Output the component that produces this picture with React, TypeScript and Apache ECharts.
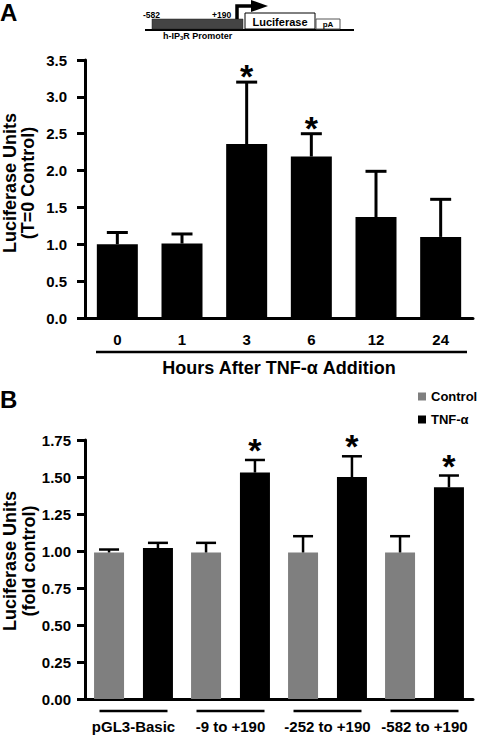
import React, { useEffect, useRef } from "react";
import * as echarts from "echarts";

// ---------- data ----------
const hours = ["0", "1", "3", "6", "12", "24"];
const meanA = [1.0, 1.01, 2.36, 2.19, 1.37, 1.1];
const errA = [0.16, 0.13, 0.84, 0.31, 0.62, 0.51];
const sigA = [0, 0, 1, 1, 0, 0];
const yTicksA = { min: 0, max: 3.5, interval: 0.5 };

const constructs = ["pGL3-Basic", "-9 to +190", "-252 to +190", "-582 to +190"];
const controlB = [0.99, 0.99, 0.99, 0.99];
const controlErrB = [0.02, 0.065, 0.11, 0.11];
const tnfB = [1.02, 1.53, 1.5, 1.43];
const tnfErrB = [0.035, 0.085, 0.14, 0.08];
const sigControlB = [0, 0, 0, 0];
const sigTnfB = [0, 1, 1, 1];
const yTicksB = { min: 0, max: 1.75, interval: 0.25 };

const yTitleA = ["Luciferase Units", "(T=0 Control)"];
const yTitleB = ["Luciferase Units", "(fold control)"];

const FONT = '"Liberation Sans", Arial, Helvetica, sans-serif';

function errRenderer(offset: number, capHalf: number, lw: number, starSize: number, starGap: number) {
  return (params: any, api: any) => {
    const i = api.value(0);
    const v = api.value(1);
    const e = api.value(2);
    const s = api.value(3);
    const p0 = api.coord([i, v]);
    const p1 = api.coord([i, v + e]);
    const x = p0[0] + offset;
    const children: any[] = [
      { type: "line", shape: { x1: x, y1: p0[1], x2: x, y2: p1[1] }, style: { stroke: "#000", lineWidth: lw } },
      { type: "line", shape: { x1: x - capHalf, y1: p1[1], x2: x + capHalf, y2: p1[1] }, style: { stroke: "#000", lineWidth: lw } },
    ];
    if (s) {
      children.push({
        type: "text",
        x,
        y: p1[1] - starGap,
        style: { text: "*", fontSize: starSize, fontWeight: "bold", fill: "#000", align: "center", verticalAlign: "middle", fontFamily: FONT },
      });
    }
    return { type: "group", children };
  };
}

const txt = (extra: any = {}) => ({ color: "#000", fontWeight: "bold", fontFamily: FONT, ...extra });

const vText = (text: string, x: number, y: number) => ({
  type: "text",
  x,
  y,
  rotation: Math.PI / 2,
  style: { text, fontSize: 18, fontWeight: "bold", fill: "#000", align: "center", verticalAlign: "middle", fontFamily: FONT },
});

export default function App() {
  const ref = useRef<HTMLDivElement>(null);
  useEffect(() => {
    document.body.style.margin = "0";
    const chart = echarts.init(ref.current!, null, { renderer: "svg" });
    const barWidthB = 30;
    const barGapB = 0.63;
    const offB = (barWidthB + barWidthB * barGapB) / 2;

    const diagram: any[] = [
      { type: "text", left: 0, top: 0, style: { text: "A", fontSize: 24, fontWeight: "bold", fill: "#000", fontFamily: FONT } },
      { type: "text", left: 0, top: 387, style: { text: "B", fontSize: 24, fontWeight: "bold", fill: "#000", fontFamily: FONT } },
      { type: "line", shape: { x1: 145, y1: 30, x2: 354, y2: 30 }, style: { stroke: "#000", lineWidth: 2 } },
      { type: "rect", shape: { x: 152, y: 19, width: 91, height: 10 }, style: { fill: "#444", stroke: "#222", lineWidth: 0.5 } },
      { type: "polyline", shape: { points: [[237, 19], [237, 6], [254, 6]] }, style: { stroke: "#000", lineWidth: 3.5, fill: null } },
      { type: "polygon", shape: { points: [[251, 0], [268, 6], [251, 12]] }, style: { fill: "#000" } },
      { type: "rect", shape: { x: 245, y: 13, width: 70, height: 16 }, style: { fill: "#fff", stroke: "#000", lineWidth: 1 } },
      { type: "rect", shape: { x: 316, y: 19, width: 24, height: 10 }, style: { fill: "#fff", stroke: "#555", lineWidth: 1 } },
      { type: "text", x: 280, y: 22, style: { text: "Luciferase", fontSize: 11, fontWeight: "bold", fill: "#000", align: "center", verticalAlign: "middle", fontFamily: FONT } },
      { type: "text", x: 328, y: 24.5, style: { text: "pA", fontSize: 8, fontWeight: "bold", fill: "#000", align: "center", verticalAlign: "middle", fontFamily: FONT } },
      { type: "text", x: 143, y: 14.5, style: { text: "-582", fontSize: 8.5, fontWeight: "bold", fill: "#000", align: "left", verticalAlign: "middle", fontFamily: FONT } },
      { type: "text", x: 212, y: 14.5, style: { text: "+190", fontSize: 8.5, fontWeight: "bold", fill: "#000", align: "left", verticalAlign: "middle", fontFamily: FONT } },
      {
        type: "text", x: 163, y: 36,
        style: {
          text: "h-IP{s|3}R Promoter", fontSize: 9, fontWeight: "bold", fill: "#000", align: "left", verticalAlign: "middle", fontFamily: FONT,
          rich: { s: { fontSize: 6, fontWeight: "bold", fill: "#000", verticalAlign: "bottom", padding: [4, 0, 0, 0], fontFamily: FONT } },
        },
      },
      { type: "line", shape: { x1: 96, y1: 352, x2: 467, y2: 352 }, style: { stroke: "#000", lineWidth: 2.5 } },
      vText(yTitleA[0], 9.5, 183),
      vText(yTitleA[1], 28, 183),
      vText(yTitleB[0], 10, 561),
      vText(yTitleB[1], 28.5, 561),
    ];

    const option: any = {
      animation: false,
      textStyle: { fontFamily: FONT },
      grid: [
        { left: 85, top: 60, width: 388, height: 258, containLabel: false, outerBoundsMode: "none" },
        { left: 85, top: 440, width: 388, height: 259, containLabel: false, outerBoundsMode: "none" },
      ],
      legend: {
        data: ["Control", "TNF-α"],
        orient: "vertical",
        left: 413,
        top: 385,
        icon: "rect",
        itemWidth: 8,
        itemHeight: 8,
        itemGap: 10,
        textStyle: txt({ fontSize: 13 }),
      },
      xAxis: [
        {
          gridIndex: 0,
          type: "category",
          data: hours,
          axisLine: { lineStyle: { color: "#000", width: 3 } },
          axisTick: { alignWithLabel: true, length: 7, lineStyle: { color: "#000", width: 3 } },
          axisLabel: txt({ margin: 14, fontSize: 15 }),
          name: "Hours After TNF-α Addition",
          nameLocation: "middle",
          nameGap: 41,
          nameTextStyle: txt({ fontSize: 18 }),
        },
        {
          gridIndex: 1,
          type: "category",
          data: constructs,
          axisLine: { lineStyle: { color: "#000", width: 3 } },
          axisTick: { show: false },
          axisLabel: txt({ margin: 20, fontSize: 15, interval: 0 }),
        },
      ],
      yAxis: [
        {
          gridIndex: 0,
          type: "value",
          ...yTicksA,
          axisLine: { show: true, lineStyle: { color: "#000", width: 3 } },
          axisTick: { show: true, length: 8, lineStyle: { color: "#000", width: 3 } },
          splitLine: { show: false },
          axisLabel: txt({ margin: 18, fontSize: 15, formatter: (v: number) => v.toFixed(1) }),
        },
        {
          gridIndex: 1,
          type: "value",
          ...yTicksB,
          axisLine: { show: true, lineStyle: { color: "#000", width: 3 } },
          axisTick: { show: true, length: 8, lineStyle: { color: "#000", width: 3 } },
          splitLine: { show: false },
          axisLabel: txt({ margin: 14, fontSize: 15, formatter: (v: number) => v.toFixed(2) }),
        },
      ],
      series: [
        { name: "A", type: "bar", xAxisIndex: 0, yAxisIndex: 0, data: meanA, barWidth: 41, itemStyle: { color: "#000" } },
        {
          name: "errA", type: "custom", xAxisIndex: 0, yAxisIndex: 0, z: 5,
          data: hours.map((_, i) => [i, meanA[i], errA[i], sigA[i]]),
          renderItem: errRenderer(0, 10.5, 3, 34, 6),
        },
        { name: "Control", type: "bar", xAxisIndex: 1, yAxisIndex: 1, data: controlB, barWidth: barWidthB, barGap: barGapB * 100 + "%", itemStyle: { color: "#7f7f7f" } },
        { name: "TNF-α", type: "bar", xAxisIndex: 1, yAxisIndex: 1, data: tnfB, barWidth: barWidthB, barGap: barGapB * 100 + "%", itemStyle: { color: "#000" } },
        {
          name: "errCtrl", type: "custom", xAxisIndex: 1, yAxisIndex: 1, z: 5,
          data: constructs.map((_, i) => [i, controlB[i], controlErrB[i], sigControlB[i]]),
          renderItem: errRenderer(-offB, 10, 2.5, 34, 10),
        },
        {
          name: "errTnf", type: "custom", xAxisIndex: 1, yAxisIndex: 1, z: 5,
          data: constructs.map((_, i) => [i, tnfB[i], tnfErrB[i], sigTnfB[i]]),
          renderItem: errRenderer(offB, 10, 2.5, 34, 10),
        },
      ],
      graphic: { elements: diagram },
    };
    chart.setOption(option);

    // underlines beneath panel B groups, placed from the category axis
    const axisY = chart.convertToPixel({ yAxisIndex: 1 }, 0) as number;
    const under = constructs.map((c, i) => {
      const cx = chart.convertToPixel({ xAxisIndex: 1 }, i) as number;
      return { type: "line", shape: { x1: cx - 34, y1: axisY + 12, x2: cx + 34, y2: axisY + 12 }, style: { stroke: "#000", lineWidth: 2.5 } };
    });
    option.graphic = { elements: [...diagram, ...under] };
    chart.setOption(option, true);

    return () => chart.dispose();
  }, []);
  return <div ref={ref} style={{ width: 477, height: 736 }} />;
}
